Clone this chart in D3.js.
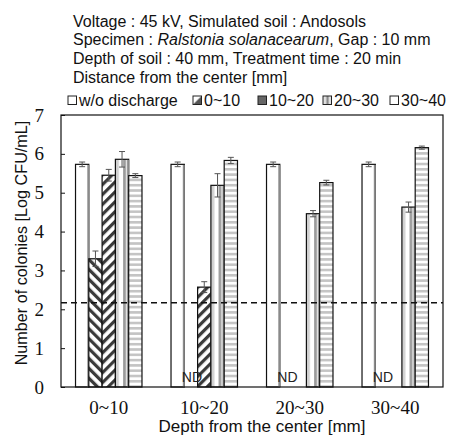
<!DOCTYPE html>
<html>
<head>
<meta charset="utf-8">
<script src="https://cdn.jsdelivr.net/npm/d3@7"></script>
<style>
  body { margin: 0; background: #fff; }
  svg { display: block; }
  .serif text, text.serif { font-family: "Liberation Serif", "Times New Roman", Times, "DejaVu Serif", serif; }
</style>
</head>
<body>
<div id="chart"></div>
<script>
  //============================================================
  // Data
  //------------------------------------------------------------

  var groups = ["0~10", "10~20", "20~30", "30~40"];
  var series = ["w/o discharge", "0~10", "10~20", "20~30", "30~40"];

  // one array per series, values per depth group (null = ND)
  var woDischarge = [5.73, 5.73, 5.73, 5.73];
  var dist0to10 = [3.30, null, null, null];
  var dist10to20 = [5.45, 2.57, null, null];
  var dist20to30 = [5.86, 5.19, 4.46, 4.63];
  var dist30to40 = [5.44, 5.83, 5.26, 6.16];

  var errWo = [0.06, 0.06, 0.06, 0.06];
  var err0to10 = [0.20, 0, 0, 0];
  var err10to20 = [0.15, 0.14, 0, 0];
  var err20to30 = [0.20, 0.30, 0.08, 0.13];
  var err30to40 = [0.05, 0.08, 0.06, 0.04];

  var detectionLimit = 2.17;
  var yTicks = [0, 1, 2, 3, 4, 5, 6, 7];

  var titleLines = [
    [{t: "Voltage : 45 kV, Simulated soil : Andosols"}],
    [{t: "Specimen : "}, {t: "Ralstonia solanacearum", i: true}, {t: ", Gap : 10 mm"}],
    [{t: "Depth of soil : 40 mm, Treatment time : 20 min"}],
    [{t: "Distance from the center [mm]"}]
  ];

  var values = [woDischarge, dist0to10, dist10to20, dist20to30, dist30to40];
  var errors = [errWo, err0to10, err10to20, err20to30, err30to40];
  var fills = ["#fff", "url(#pDiagBack)", "url(#pDiagFwd)", "url(#pVert)", "url(#pHoriz)"];

  //============================================================
  // Layout
  //------------------------------------------------------------

  var width = 450, height = 435;
  var margin = {top: 115, right: 7, bottom: 48, left: 61};
  var plotW = width - margin.left - margin.right;
  var plotH = height - margin.top - margin.bottom;
  var sans = "Liberation Sans, Arial, sans-serif";

  var svg = d3.select("#chart").append("svg")
    .attr("width", width)
    .attr("height", height);

  //------------------------------------------------------------
  // Patterns

  var defs = svg.append("defs");

  function diag(id, angle) {
    var p = defs.append("pattern")
      .attr("id", id)
      .attr("patternUnits", "userSpaceOnUse")
      .attr("width", 7)
      .attr("height", 7)
      .attr("patternTransform", "rotate(" + angle + ")");
    p.append("rect").attr("width", 7).attr("height", 7).attr("fill", "#fff");
    p.append("rect").attr("x", 0).attr("width", 3.2).attr("height", 7).attr("fill", "#3a3a3a");
  }
  diag("pDiagBack", -45);
  diag("pDiagFwd", 45);

  var pv = defs.append("pattern")
    .attr("id", "pVert")
    .attr("patternUnits", "objectBoundingBox")
    .attr("patternContentUnits", "objectBoundingBox")
    .attr("width", 1)
    .attr("height", 1);
  pv.append("rect").attr("width", 1).attr("height", 1).attr("fill", "#fff");
  pv.append("rect").attr("x", 0).attr("width", 0.26).attr("height", 1).attr("fill", "#d0d0d0");
  pv.append("rect").attr("x", 0.58).attr("width", 0.2).attr("height", 1).attr("fill", "#9a9a9a");
  pv.append("rect").attr("x", 0.78).attr("width", 0.22).attr("height", 1).attr("fill", "#e2e2e2");

  var ph = defs.append("pattern")
    .attr("id", "pHoriz")
    .attr("patternUnits", "userSpaceOnUse")
    .attr("width", 10)
    .attr("height", 5.3);
  ph.append("rect").attr("width", 10).attr("height", 5.3).attr("fill", "#fff");
  ph.append("rect").attr("y", 0).attr("width", 10).attr("height", 2.6).attr("fill", "#c4c4c4");

  var la = defs.append("pattern").attr("id", "pLegA")
    .attr("patternUnits", "objectBoundingBox").attr("patternContentUnits", "objectBoundingBox")
    .attr("width", 1).attr("height", 1);
  la.append("rect").attr("width", 1).attr("height", 1).attr("fill", "#fff");
  la.append("path").attr("d", "M1,0L1,1L0,1Z").attr("fill", "#555");
  var lc = defs.append("pattern").attr("id", "pLegC")
    .attr("patternUnits", "objectBoundingBox").attr("patternContentUnits", "objectBoundingBox")
    .attr("width", 1).attr("height", 1);
  lc.append("rect").attr("width", 1).attr("height", 1).attr("fill", "#e0e0e0");
  lc.append("rect").attr("x", 0.4).attr("width", 0.25).attr("height", 1).attr("fill", "#888");

  //============================================================
  // Scales
  //------------------------------------------------------------

  var x0 = d3.scaleBand().domain(groups).range([0, plotW]).padding(0);
  var bw = x0.bandwidth();
  var x1 = d3.scaleBand().domain(d3.range(series.length))
    .range([bw * 0.152, bw * 0.848]).padding(0);
  var y = d3.scaleLinear().domain([0, 7]).range([plotH, 0]);

  var g = svg.append("g").attr("transform", "translate(" + margin.left + "," + margin.top + ")");

  //============================================================
  // Bars
  //------------------------------------------------------------

  var bars = [];
  values.forEach(function(arr, s) {
    arr.forEach(function(v, gi) {
      bars.push({s: s, g: groups[gi], v: v, e: errors[s][gi]});
    });
  });

  var barG = g.selectAll(".bar").data(bars.filter(function(d) { return d.v != null; }))
    .enter().append("g").attr("class", "bar");

  barG.append("rect")
    .attr("x", function(d) { return x0(d.g) + x1(d.s); })
    .attr("y", function(d) { return y(d.v); })
    .attr("width", x1.bandwidth())
    .attr("height", function(d) { return plotH - y(d.v); })
    .attr("fill", function(d) { return fills[d.s]; })
    .attr("stroke", "#111")
    .attr("stroke-width", 1.2);

  // grey shadow line on the right edge of open bars
  barG.filter(function(d) { return d.s === 0 || d.s === 3; })
    .append("line")
    .attr("x1", function(d) { return x0(d.g) + x1(d.s) + x1.bandwidth() - 0.5; })
    .attr("x2", function(d) { return x0(d.g) + x1(d.s) + x1.bandwidth() - 0.5; })
    .attr("y1", function(d) { return y(d.v) + 0.6; })
    .attr("y2", plotH)
    .attr("stroke", "#8a8a8a")
    .attr("stroke-width", 2);

  // error bars
  var errG = barG.filter(function(d) { return d.e > 0; }).append("g")
    .attr("stroke", "#555")
    .attr("stroke-width", 1);
  function cx(d) { return x0(d.g) + x1(d.s) + x1.bandwidth() / 2; }
  errG.append("line")
    .attr("x1", cx).attr("x2", cx)
    .attr("y1", function(d) { return y(d.v + d.e); })
    .attr("y2", function(d) { return y(d.v - d.e); });
  errG.append("line")
    .attr("x1", function(d) { return cx(d) - 3; }).attr("x2", function(d) { return cx(d) + 3; })
    .attr("y1", function(d) { return y(d.v + d.e); })
    .attr("y2", function(d) { return y(d.v + d.e); });
  errG.append("line")
    .attr("x1", function(d) { return cx(d) - 3; }).attr("x2", function(d) { return cx(d) + 3; })
    .attr("y1", function(d) { return y(d.v - d.e); })
    .attr("y2", function(d) { return y(d.v - d.e); });

  // ND labels at the first missing distance of each group
  var ndLabels = groups.map(function(gr, gi) {
    return gi === 0 ? null : {g: gr, s: 1};
  }).filter(Boolean);

  g.selectAll(".nd").data(ndLabels).enter().append("text")
    .attr("class", "nd")
    .attr("x", function(d) { return x0(d.g) + x1(d.s) + x1.bandwidth() / 2 + 1; })
    .attr("y", plotH - 5.5)
    .attr("text-anchor", "middle")
    .attr("font-family", sans)
    .attr("font-size", 14)
    .attr("fill", "#222")
    .text("ND");

  // detection limit
  g.append("line")
    .attr("x1", 0).attr("x2", plotW)
    .attr("y1", y(detectionLimit)).attr("y2", y(detectionLimit))
    .attr("stroke", "#111")
    .attr("stroke-width", 1.5)
    .attr("stroke-dasharray", "6,4");

  //============================================================
  // Axes and frame
  //------------------------------------------------------------

  g.append("rect")
    .attr("width", plotW).attr("height", plotH)
    .attr("fill", "none").attr("stroke", "#111").attr("stroke-width", 1.2);

  var yAxis = g.append("g")
    .call(d3.axisLeft(y).tickValues(yTicks).tickFormat(d3.format("d"))
      .tickSizeInner(-4).tickSizeOuter(0).tickPadding(17))
    .attr("class", "serif")
    .attr("font-family", null)
    .attr("font-size", 19);
  yAxis.select(".domain").remove();
  yAxis.selectAll("text").attr("fill", "#111");
  yAxis.selectAll("line").attr("stroke", "#111");

  var xAxis = g.append("g").attr("transform", "translate(0," + plotH + ")")
    .call(d3.axisBottom(x0).tickSize(0).tickPadding(14))
    .attr("class", "serif")
    .attr("font-family", null)
    .attr("font-size", 19);
  xAxis.select(".domain").remove();
  xAxis.selectAll("text").attr("fill", "#111");

  svg.append("text")
    .attr("x", 262)
    .attr("y", 431.5)
    .attr("text-anchor", "middle")
    .attr("font-family", sans)
    .attr("font-size", 17)
    .attr("fill", "#111")
    .text("Depth from the center [mm]");

  svg.append("text")
    .attr("transform", "translate(27,243) rotate(-90)")
    .attr("text-anchor", "middle")
    .attr("font-family", sans)
    .attr("font-size", 16.2)
    .attr("fill", "#111")
    .text("Number of colonies [Log CFU/mL]");

  //============================================================
  // Title lines and legend
  //------------------------------------------------------------

  var title = svg.append("text")
    .attr("font-family", sans)
    .attr("font-size", 16)
    .attr("fill", "#111");
  titleLines.forEach(function(line, li) {
    line.forEach(function(part, pi) {
      var ts = title.append("tspan").text(part.t);
      if (pi === 0) ts.attr("x", 73).attr("y", 26.5 + li * 18.8);
      if (part.i) ts.style("font-style", "italic");
    });
  });

  var legendX = [68, 193, 258, 323, 390];
  var legendFill = ["#fff", "url(#pLegA)", "#666", "url(#pLegC)", "#fff"];

  var legend = svg.selectAll(".legend").data(series).enter().append("g")
    .attr("class", "legend")
    .attr("transform", function(d, i) { return "translate(" + legendX[i] + ",96)"; });
  legend.append("rect")
    .attr("width", 8.5).attr("height", 8.5)
    .attr("fill", function(d, i) { return legendFill[i]; })
    .attr("stroke", "#222").attr("stroke-width", 1);
  legend.append("text")
    .attr("x", 11).attr("y", 9.5)
    .attr("font-family", sans)
    .attr("font-size", 16)
    .attr("fill", "#111")
    .text(function(d) { return d; });
</script>
</body>
</html>
